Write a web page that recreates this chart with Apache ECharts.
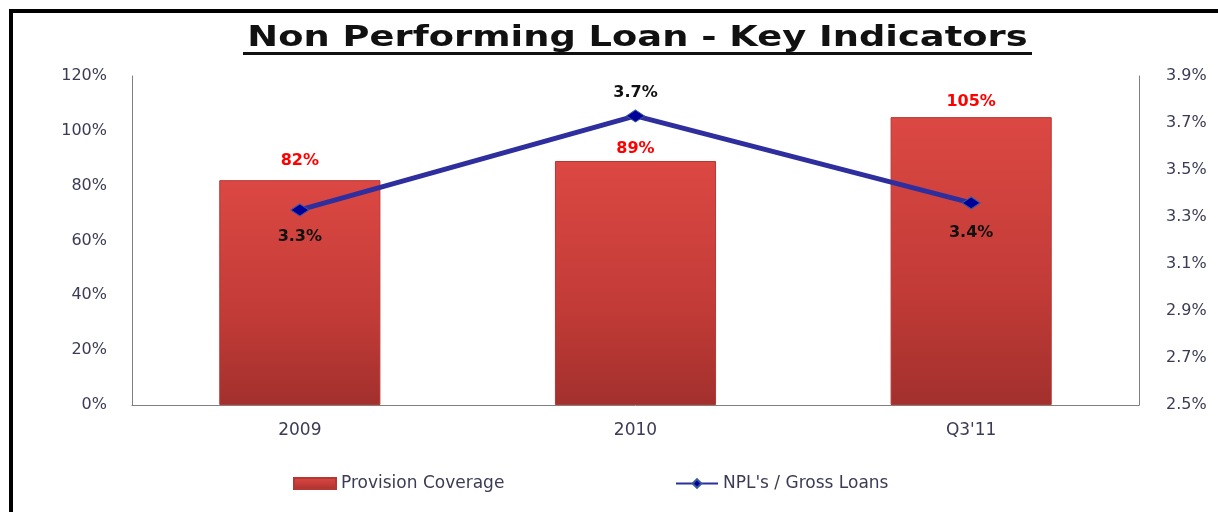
<!DOCTYPE html>
<html>
<head>
<meta charset="utf-8">
<script src="https://cdn.jsdelivr.net/npm/echarts@6/dist/echarts.min.js"></script>
<style>
html,body{margin:0;padding:0;background:#fff;}
#chart{width:1218px;height:512px;}
</style>
</head>
<body>
<div id="chart"></div>
<script>
const categories = ["2009", "2010", "Q3'11"];
const provisionCoverage = [82, 89, 105];
const nplRatio = [3.33, 3.73, 3.36];
const leftTicks = [0, 20, 40, 60, 80, 100, 120];
const rightTicks = [2.5, 2.7, 2.9, 3.1, 3.3, 3.5, 3.7, 3.9];
const titleText = "Non Performing Loan - Key Indicators";
const seriesNames = ["Provision Coverage", "NPL's / Gross Loans"];

const chart = echarts.init(document.getElementById('chart'));
const barGrad = new echarts.graphic.LinearGradient(0, 0, 0, 1, [
  {offset: 0, color: '#dc4843'},
  {offset: 0.6, color: '#c23b37'},
  {offset: 1, color: '#a2302d'}
]);
const textCol = '#3b3b55';
const yFont = {fontFamily: 'DejaVu Sans', fontSize: 16, color: textCol};
const barLabelDist = [11, 4, 7];
const lineLabelPos = ['bottom', 'top', 'bottom'];
const lineLabelDist = [12, 9, 16];
const option = {
  backgroundColor: '#fff',
  animation: false,
  graphic: [
    {type: 'rect', shape: {x: 11, y: 11, width: 1230, height: 520}, style: {fill: 'none', stroke: '#000', lineWidth: 4}},
    {type: 'text', x: 637.5, y: 38, scaleX: 1.27,
     style: {text: titleText, font: 'bold 29px "DejaVu Sans"', fill: '#111', textAlign: 'center', textVerticalAlign: 'middle'}},
    {type: 'rect', shape: {x: 243, y: 52, width: 789, height: 3}, style: {fill: '#111'}}
  ],
  legend: [
    {data: [{name: seriesNames[0], icon: 'rect'}], left: 288, top: 470, itemWidth: 42, itemHeight: 11, itemGap: 6,
     textStyle: {fontFamily: 'DejaVu Sans', fontSize: 17, color: textCol}},
    {data: [seriesNames[1]], left: 670, top: 470, itemWidth: 42, itemHeight: 11,
     textStyle: {fontFamily: 'DejaVu Sans', fontSize: 17, color: textCol}}
  ],
  grid: {left: 132, right: 79, top: 76, bottom: 107, containLabel: false},
  xAxis: {
    type: 'category', data: categories,
    axisLine: {lineStyle: {color: '#7f7f7f', width: 1}},
    axisTick: {show: false},
    axisLabel: {margin: 17, fontFamily: 'DejaVu Sans', fontSize: 17, color: textCol}
  },
  yAxis: [
    {type: 'value', min: 0, max: 120, interval: 20, position: 'left',
     axisLine: {show: true, lineStyle: {color: '#7f7f7f'}}, axisTick: {show: false},
     splitLine: {show: false},
     axisLabel: Object.assign({margin: 25, formatter: v => leftTicks.includes(v) ? v + '%' : ''}, yFont)},
    {type: 'value', min: 2.5, max: 3.9, interval: 0.2, position: 'right',
     axisLine: {show: true, lineStyle: {color: '#7f7f7f'}}, axisTick: {show: false},
     splitLine: {show: false},
     axisLabel: Object.assign({margin: 27, formatter: v => {
       const r = rightTicks.find(t => Math.abs(t - v) < 1e-6);
       return r !== undefined ? r.toFixed(1) + '%' : '';
     }}, yFont)}
  ],
  series: [
    {name: seriesNames[0], type: 'bar', yAxisIndex: 0,
     barWidth: '48%',
     itemStyle: {color: barGrad, borderColor: '#b53632', borderWidth: 1},
     label: {show: true, position: 'top', formatter: p => p.value + '%',
       fontFamily: 'DejaVu Sans', fontWeight: 'bold', fontSize: 16, color: '#ff0000'},
     data: provisionCoverage.map((v, i) => ({value: v, label: {distance: barLabelDist[i]}}))},
    {name: seriesNames[1], type: 'line', yAxisIndex: 1,
     symbol: 'diamond', symbolSize: [18, 12],
     lineStyle: {color: '#2e2e9e', width: 5},
     itemStyle: {color: '#000099', borderColor: '#3a5a9e', borderWidth: 1},
     label: {show: true, formatter: p => p.value.toFixed(1) + '%',
       fontFamily: 'DejaVu Sans', fontWeight: 'bold', fontSize: 16, color: '#111'},
     data: nplRatio.map((v, i) => ({value: v, label: {position: lineLabelPos[i], distance: lineLabelDist[i]}}))}
  ]
};
chart.setOption(option);
</script>
</body>
</html>
